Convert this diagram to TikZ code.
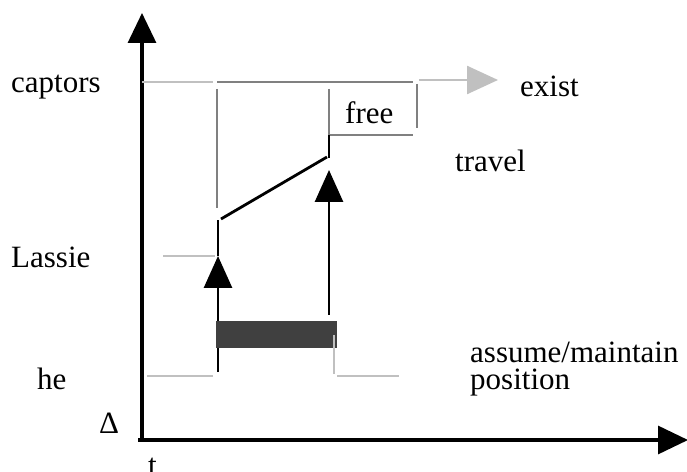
\documentclass[tikz,border=0pt]{standalone}
\usepackage{fontspec}
\setmainfont{Liberation Serif}
\usetikzlibrary{arrows.meta}
\definecolor{lightline}{HTML}{C0C0C0}
\definecolor{midline}{HTML}{808080}
\definecolor{barfill}{HTML}{404040}
\tikzset{
  axisline/.style={line width=3.2bp, -{Triangle[length=30bp,width=28bp]}},
  cause/.style={line width=2.8bp, -{Triangle[length=32bp,width=28bp]}},
  solidseg/.style={line width=2.8bp},
  faintseg/.style={line width=2.5bp, draw=lightline},
  midseg/.style={line width=2.5bp, draw=midline},
  faintarrow/.style={line width=2.5bp, draw=lightline, -{Triangle[length=31bp,width=28bp,fill=lightline]}},
  lbl/.style={anchor=base west, inner sep=0pt, font=\fontsize{31bp}{26bp}\selectfont},
}
\begin{document}
\begin{tikzpicture}[x=1bp,y=-1bp]
  \useasboundingbox (0,0) rectangle (687,472);

  % axes
  \coordinate (origin) at (142,440);
  \coordinate (ytop) at (142,13);
  \coordinate (xstart) at (138,440);
  \coordinate (xend) at (688,440);
  \draw[axisline] (origin) -- (ytop);
  \draw[axisline] (xstart) -- (xend);

  % row labels
  \node[lbl] (captors) at (11,93) {captors};
  \node[lbl] (lassie) at (11,268) {Lassie};
  \node[lbl] (he) at (37,389) {he};
  \node[lbl] (delta) at (99,433) {Δ};
  \node[lbl] (t) at (148,475) {t};

  % event labels
  \node[lbl] (free) at (345,124) {free};
  \node[lbl] (exist) at (520,97) {exist};
  \node[lbl] (travel) at (455,172) {travel};
  \node[lbl] (assume) at (470,362) {assume/maintain};
  \node[lbl] (position) at (470,389) {position};

  % captors timeline
  \coordinate (c0) at (142,82);
  \coordinate (c1) at (213,82);
  \coordinate (c2) at (217,82);
  \coordinate (c3) at (413,82);
  \coordinate (e0) at (419,80);
  \coordinate (e1) at (498,80);
  \draw[faintseg] (c0) -- (c1);
  \draw[midseg] (c2) -- (c3);
  \draw[faintarrow] (e0) -- (e1);

  % travel interval and the free box
  \coordinate (v1top) at (217,89);
  \coordinate (v1bot) at (217,208);
  \coordinate (v2top) at (329,89);
  \coordinate (v2bot) at (329,135);
  \coordinate (fb1) at (413,135);
  \coordinate (fr0) at (417,84);
  \coordinate (fr1) at (417,128);
  \draw[midseg] (v1top) -- (v1bot);
  \draw[midseg] (v2top) -- (v2bot) -- (fb1);
  \draw[midseg] (fr0) -- (fr1);

  % Lassie timeline
  \coordinate (l0) at (163,256);
  \coordinate (l1) at (215,256);
  \draw[faintseg] (l0) -- (l1);

  % rising change between the two events
  \coordinate (s0) at (218,220);
  \coordinate (s1) at (221,219);
  \coordinate (s2) at (327,157);
  \coordinate (s3) at (329,158);
  \draw[solidseg] (s1) -- (s2);
  \draw[solidseg] (v2bot) -- (s3);

  % causal arrows
  \coordinate (a1foot) at (218,372);
  \coordinate (a1tip) at (218,256);
  \coordinate (a2foot) at (329,315);
  \coordinate (a2tip) at (329,170);
  \draw[cause] (a1foot) -- (a1tip);
  \draw[solidseg] (a1tip) -- (s0);
  \draw[cause] (a2foot) -- (a2tip);

  % he: position held
  \fill[barfill] (216,321) rectangle (337,348);
  \coordinate (h0) at (147,376);
  \coordinate (h1) at (213,376);
  \coordinate (h2) at (334,335);
  \coordinate (h3) at (334,374);
  \coordinate (h4) at (337,376);
  \coordinate (h5) at (399,376);
  \draw[faintseg] (h0) -- (h1);
  \draw[faintseg] (h2) -- (h3);
  \draw[faintseg] (h4) -- (h5);
\end{tikzpicture}
\end{document}
